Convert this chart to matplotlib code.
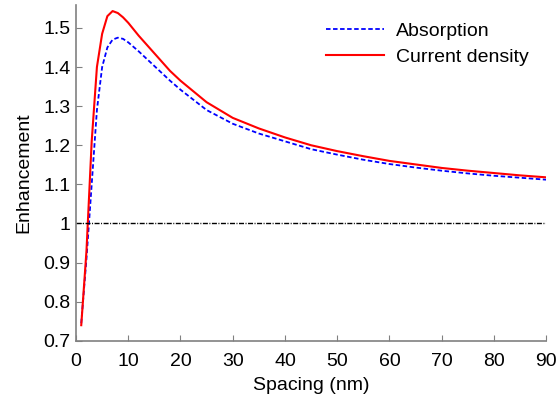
import matplotlib
matplotlib.use("Agg")
import matplotlib.pyplot as plt

spacing = [1, 2, 3, 4, 5, 6, 7, 8, 9, 10, 12, 14, 16, 18, 20, 25, 30, 35, 40,
           45, 50, 55, 60, 65, 70, 75, 80, 85, 90]
absorption = [0.745, 0.91, 1.10, 1.29, 1.40, 1.45, 1.470, 1.475, 1.472, 1.463,
              1.44, 1.415, 1.39, 1.365, 1.342, 1.29, 1.255, 1.23, 1.21, 1.19,
              1.176, 1.163, 1.152, 1.143, 1.135, 1.128, 1.122, 1.117, 1.112]
current = [0.74, 0.93, 1.21, 1.40, 1.485, 1.53, 1.543, 1.538, 1.527, 1.513,
           1.48, 1.45, 1.42, 1.39, 1.365, 1.31, 1.27, 1.243, 1.22, 1.20,
           1.185, 1.172, 1.16, 1.151, 1.142, 1.135, 1.129, 1.123, 1.118]
xticks = [0, 10, 20, 30, 40, 50, 60, 70, 80, 90]
yticks = [0.7, 0.8, 0.9, 1.0, 1.1, 1.2, 1.3, 1.4, 1.5]
ytick_labels = ["0.7", "0.8", "0.9", "1", "1.1", "1.2", "1.3", "1.4", "1.5"]

plt.rcParams['font.family'] = ['Liberation Sans', 'DejaVu Sans']
fig = plt.figure(figsize=(5.59, 4.01), dpi=100)
ax = fig.add_axes([0.136, 0.150, 0.841, 0.838])

ax.plot(spacing, absorption, color='#0000ff', linestyle='--', linewidth=1.3,
        dashes=(2.5, 1.4), label='Absorption')
ax.plot(spacing, current, color='#ff0000', linestyle='-', linewidth=1.5,
        label='Current density')
ax.plot([0, 90], [1, 1], color='black', linestyle='-.', linewidth=1.0,
        dashes=(3.6, 1.1, 0.7, 1.1))

ax.set_xlim(0, 90)
ax.set_ylim(0.7, 1.559)
ax.set_xticks(xticks)
ax.set_yticks(yticks)
ax.set_yticklabels(ytick_labels)
ax.tick_params(direction='in', length=4, labelsize=14, color='#808080')
ax.tick_params(axis='x', pad=9)
ax.tick_params(axis='y', pad=4)
for s in ['top', 'right']:
    ax.spines[s].set_visible(False)
for s in ['left', 'bottom']:
    ax.spines[s].set_color('#808080')
    ax.spines[s].set_linewidth(1.2)

ax.set_xlabel('Spacing (nm)', fontsize=14, labelpad=5)
ax.set_ylabel('Enhancement', fontsize=14, labelpad=8)
ax.legend(loc='upper right', frameon=False, fontsize=14, handlelength=3.0,
          bbox_to_anchor=(1.0, 1.0), borderaxespad=0.5, labelspacing=0.45,
          handletextpad=0.6)

fig.savefig('out.png', dpi=100)
